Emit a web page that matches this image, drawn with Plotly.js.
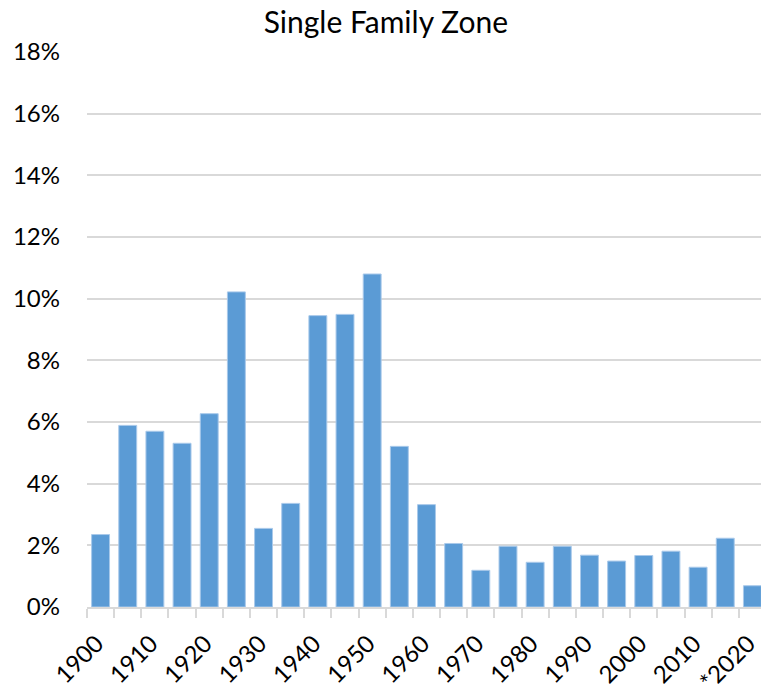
<!DOCTYPE html>
<html>
<head>
<meta charset="utf-8">
<script src="https://cdn.plot.ly/plotly-3.0.1.min.js"></script>
<style>
  html, body { margin: 0; padding: 0; background: #fff; }
  #plot { width: 761px; height: 692px; }
</style>
</head>
<body>
<div id="plot"></div>
<script>
// periods (5-year bins), last one is partial
const periods = ["1900", "1905", "1910", "1915", "1920", "1925", "1930", "1935",
  "1940", "1945", "1950", "1955", "1960", "1965", "1970", "1975", "1980",
  "1985", "1990", "1995", "2000", "2005", "2010", "2015", "*2020"];

// share of homes built, percent
const sharePct = [2.35, 5.89, 5.70, 5.31, 6.27, 10.22, 2.55, 3.36,
  9.45, 9.49, 10.80, 5.21, 3.32, 2.06, 1.19, 1.97, 1.45,
  1.97, 1.68, 1.49, 1.67, 1.81, 1.29, 2.23, 0.69];

// only every other period gets a label
const tickLabels = periods.map((p, i) => (i % 2 === 0 ? p : ""));

const font = "Lato, 'Open Sans', sans-serif";

const trace = {
  type: "bar",
  x: periods,
  y: sharePct,
  marker: { color: "#5b9bd5", line: { color: "#a9c9ea", width: 1 } },
  hoverinfo: "x+y"
};

const layout = {
  width: 761,
  height: 692,
  margin: { l: 87, r: 0, t: 52, b: 85 },
  paper_bgcolor: "#fff",
  plot_bgcolor: "#fff",
  bargap: 0.34,
  showlegend: false,
  font: { family: font, color: "#000" },
  title: {
    text: "Single Family Zone",
    font: { family: font, size: 30, color: "#000" },
    x: 0.507, xref: "container", xanchor: "center",
    y: 0.968, yref: "container", yanchor: "middle"
  },
  xaxis: {
    type: "category",
    range: [-0.5, 24.316],
    tickmode: "array",
    tickvals: periods,
    ticktext: tickLabels,
    tickson: "boundaries",
    ticks: "outside",
    ticklen: 9,
    tickcolor: "#d9d9d9",
    tickwidth: 2,
    tickangle: -45,
    tickfont: { family: font, size: 24, color: "#000" },
    ticklabelstandoff: 11,
    ticklabelshift: -4,
    showgrid: false,
    showline: true,
    linecolor: "#d9d9d9",
    linewidth: 2,
    zeroline: false
  },
  yaxis: {
    range: [0, 18],
    tickmode: "linear",
    tick0: 0,
    dtick: 2,
    ticksuffix: "%",
    tickfont: { family: font, size: 24, color: "#000" },
    showgrid: true,
    gridcolor: "#d9d9d9",
    gridwidth: 2,
    zeroline: false,
    showline: false,
    ticks: "",
    ticklabelstandoff: 26
  }
};

Plotly.newPlot("plot", [trace], layout, { displayModeBar: false, staticPlot: true });
</script>
</body>
</html>
